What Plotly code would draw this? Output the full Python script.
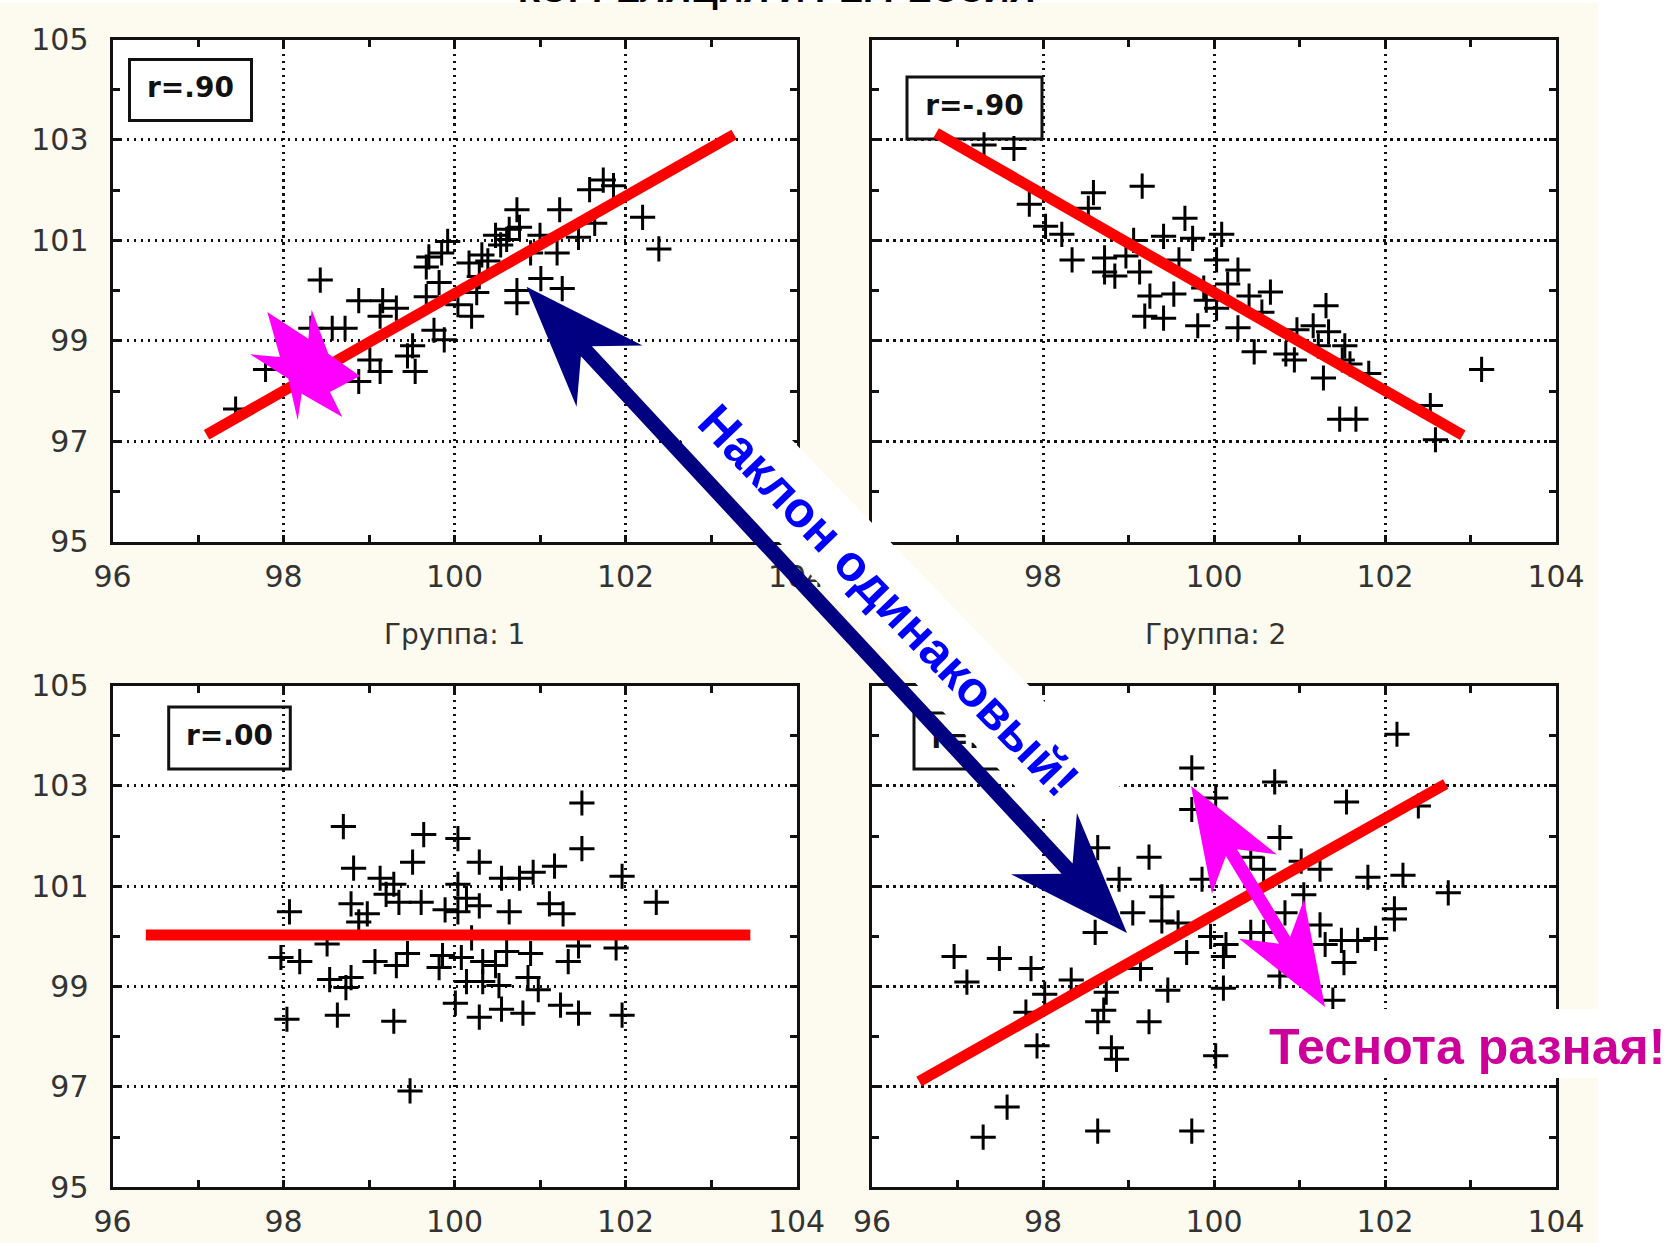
import math
import plotly.graph_objects as go

W, H = 1678, 1243

# ---------------- data ----------------
x_ticks = [96, 98, 100, 102, 104]
y_ticks = [95, 97, 99, 101, 103, 105]

tl_x = [97.44, 97.79, 98.43, 98.32, 98.57, 98.72, 98.88, 98.88, 99.01, 99.13, 99.16, 99.32, 99.13,
        99.51, 99.54, 99.45, 99.76, 99.88, 99.67, 99.82, 99.67, 99.70, 99.92, 99.85, 100.04, 100.20,
        100.17, 100.26, 100.29, 100.39, 100.48, 100.61, 100.64, 100.73, 100.76, 100.73, 100.73, 100.89,
        101.01, 101.20, 101.26, 101.23, 101.45, 101.64, 101.58, 101.74, 101.86, 102.20, 102.39, 101.00,
        100.32, 100.54]
tl_y = [97.64, 98.43, 100.21, 99.25, 99.25, 99.25, 99.80, 98.19, 98.62, 98.39, 99.80, 99.65, 99.49,
        98.90, 98.39, 98.70, 99.21, 99.02, 99.88, 100.16, 100.47, 100.67, 100.98, 100.75, 99.72, 99.49,
        100.55, 99.96, 100.28, 100.59, 101.10, 101.02, 101.22, 101.61, 101.26, 100.00, 99.76, 100.75,
        100.24, 100.75, 100.04, 101.61, 101.06, 101.34, 102.01, 102.20, 102.09, 101.46, 100.83, 101.10,
        100.71, 100.91]

tr_x = [97.31, 97.66, 97.84, 98.03, 98.22, 98.34, 98.59, 98.53, 99.16, 98.72, 98.84, 98.72, 98.97,
        99.13, 99.06, 99.41, 99.66, 99.75, 100.09, 99.59, 100.03, 100.28, 100.16, 99.25, 99.19, 99.41,
        99.53, 99.81, 99.91, 100.03, 100.41, 100.66, 100.56, 100.28, 100.47, 100.84, 100.94, 100.97,
        101.16, 101.31, 101.34, 101.22, 101.53, 101.50, 101.28, 101.59, 101.81, 101.47, 101.66, 102.53,
        102.59, 103.13, 99.88]
tr_y = [102.90, 102.83, 101.72, 101.28, 101.12, 100.61, 101.95, 101.64, 102.08, 100.65, 100.29, 100.37,
        100.69, 100.37, 101.00, 101.08, 101.44, 101.04, 101.12, 100.61, 100.61, 100.41, 100.13, 99.89,
        99.49, 99.45, 99.93, 99.30, 99.81, 99.65, 99.89, 99.97, 99.57, 99.26, 98.78, 98.74, 98.62, 99.22,
        99.30, 99.70, 99.18, 98.90, 98.90, 98.62, 98.26, 98.54, 98.35, 97.44, 97.44, 97.71, 97.03, 98.43,
        100.05]

bl_x = [98.04, 97.97, 98.19, 98.07, 98.51, 98.54, 98.73, 98.79, 98.63, 98.70, 98.82, 98.79, 98.98,
        98.88, 99.07, 99.13, 99.29, 99.20, 99.35, 99.51, 99.64, 99.61, 99.45, 99.32, 99.29, 99.48,
        99.89, 99.86, 99.82, 100.04, 100.04, 100.14, 100.04, 100.08, 100.20, 100.29, 100.29, 100.33,
        100.14, 100.33, 100.01, 100.29, 100.55, 100.52, 100.48, 100.55, 100.64, 100.61, 100.76, 100.80,
        100.92, 100.89, 100.86, 100.98, 101.17, 101.11, 101.27, 101.33, 101.45, 101.24, 101.45, 101.49,
        101.49, 101.89, 101.96, 101.96, 102.36]
bl_y = [98.35, 99.58, 99.50, 100.49, 99.85, 99.14, 98.98, 99.18, 98.43, 102.19, 101.36, 100.65, 100.45,
        100.29, 99.50, 101.16, 101.04, 100.84, 100.68, 101.48, 102.03, 100.68, 99.66, 99.42, 98.31, 96.92,
        100.53, 99.62, 99.38, 101.95, 101.04, 100.76, 100.49, 99.58, 99.97, 101.48, 100.61, 99.50, 99.10,
        99.10, 98.67, 98.39, 98.55, 99.02, 99.42, 101.16, 100.49, 99.70, 101.16, 98.47, 101.28, 99.66,
        99.18, 98.94, 101.40, 100.65, 100.45, 99.50, 99.81, 98.63, 98.47, 102.66, 101.75, 99.77, 101.20,
        98.43, 100.68]

br_x = [97.30, 97.58, 96.96, 97.11, 97.49, 97.86, 98.02, 97.80, 97.93, 98.33, 98.64, 98.61, 98.64,
        98.89, 98.74, 98.64, 98.71, 98.80, 98.86, 99.05, 99.14, 99.24, 99.24, 99.39, 99.39, 99.58,
        99.46, 99.68, 99.74, 99.74, 99.74, 100.02, 100.02, 99.86, 99.96, 100.11, 100.11, 100.14, 100.43,
        100.58, 100.43, 100.58, 100.77, 100.71, 100.83, 100.77, 101.02, 101.05, 101.24, 101.24, 101.30,
        101.39, 101.49, 101.52, 101.68, 101.89, 101.55, 101.80, 102.11, 102.11, 102.21, 102.14, 102.39,
        102.74]
br_y = [96.00, 96.60, 99.60, 99.09, 99.56, 99.36, 98.85, 98.49, 97.82, 99.13, 96.12, 100.08, 101.77,
        101.14, 98.89, 98.30, 98.53, 97.78, 97.55, 100.47, 99.36, 98.30, 101.58, 100.79, 100.31, 100.27,
        98.93, 99.68, 103.36, 102.53, 96.12, 97.62, 102.76, 101.14, 100.00, 99.60, 98.97, 99.84, 101.58,
        101.34, 100.08, 100.08, 101.97, 103.08, 100.47, 99.21, 101.50, 100.83, 101.34, 100.23, 99.84,
        98.73, 99.92, 99.48, 99.92, 99.96, 102.68, 101.18, 100.55, 100.35, 101.22, 104.03, 102.60,
        100.87]

tl_line_x = [97.10, 103.27]
tl_line_y = [97.13, 103.11]
tr_line_x = [96.75, 102.91]
tr_line_y = [103.14, 97.12]
bl_line_x = [96.39, 103.46]
bl_line_y = [100.03, 100.03]
br_line_x = [96.55, 102.71]
br_line_y = [97.11, 103.04]

r_labels = ["r=.90", "r=-.90", "r=.00", "r=.50"]
group_labels = ["Группа: 1", "Группа: 2"]
slope_text = "Наклон одинаковый!"
tight_text = "Теснота разная!"
title_text = "КОРРЕЛЯЦИЯ И РЕГРЕССИЯ"

# ---------------- layout geometry (pixels) ----------------
COL_X = [(112.5, 796.5), (872.0, 1556.0)]
ROW_Y = [(39.5, 541.7), (685.6, 1187.3)]

CREAM = "#FDFBF0"
FONT = "Liberation Sans, Arial, sans-serif"
TICKFONT = "DejaVu Sans, Verdana, sans-serif"


def pxx(x):
    return x / W


def pxy(y):
    return 1 - y / H


panels = [
    dict(ax="", col=0, row=0, xs=tl_x, ys=tl_y, lx=tl_line_x, ly=tl_line_y, r=r_labels[0],
         box=(129.5, 59.5, 251.5, 120.5), ylab=True),
    dict(ax="2", col=1, row=0, xs=tr_x, ys=tr_y, lx=tr_line_x, ly=tr_line_y, r=r_labels[1],
         box=(907.0, 77.0, 1042.0, 139.0), ylab=False),
    dict(ax="3", col=0, row=1, xs=bl_x, ys=bl_y, lx=bl_line_x, ly=bl_line_y, r=r_labels[2],
         box=(168.7, 707.0, 290.3, 769.0), ylab=True),
    dict(ax="4", col=1, row=1, xs=br_x, ys=br_y, lx=br_line_x, ly=br_line_y, r=r_labels[3],
         box=(914.0, 713.0, 1036.0, 769.0), ylab=False),
]

fig = go.Figure()
shapes = []

# white strips outside the cream slide area
shapes.append(dict(type="rect", xref="paper", yref="paper", x0=pxx(1598), x1=1, y0=0, y1=1,
                   fillcolor="white", line=dict(width=0), layer="below"))
shapes.append(dict(type="rect", xref="paper", yref="paper", x0=0, x1=1, y0=pxy(3), y1=1,
                   fillcolor="white", line=dict(width=0), layer="below"))

layout_axes = {}
for p in panels:
    xa = "x" + p["ax"]
    ya = "y" + p["ax"]
    x0, x1 = COL_X[p["col"]]
    y0, y1 = ROW_Y[p["row"]]

    fig.add_trace(go.Scatter(
        x=p["xs"], y=p["ys"], mode="markers", xaxis=xa, yaxis=ya, showlegend=False,
        marker=dict(symbol="cross-thin", size=18, color="black", line=dict(color="black", width=3)),
        hoverinfo="skip"))
    fig.add_trace(go.Scatter(
        x=p["lx"], y=p["ly"], mode="lines", xaxis=xa, yaxis=ya, showlegend=False,
        line=dict(color="#FF0000", width=11), hoverinfo="skip"))

    # r-label box (below traces) and its text (as a text trace)
    bx0, by0, bx1, by1 = p["box"]
    shapes.append(dict(type="rect", xref=xa + " domain", yref=ya + " domain",
                       x0=(bx0 - x0) / (x1 - x0), x1=(bx1 - x0) / (x1 - x0),
                       y0=1 - (by1 - y0) / (y1 - y0), y1=1 - (by0 - y0) / (y1 - y0),
                       fillcolor="white", line=dict(color="#111", width=3), layer="below"))
    cx = 96 + ((bx0 + bx1) / 2 - x0) / (x1 - x0) * 8
    cy = 105 - ((by0 + by1) / 2 - y0) / (y1 - y0) * 10
    fig.add_trace(go.Scatter(
        x=[cx], y=[cy], mode="text", text=[p["r"]], xaxis=xa, yaxis=ya, showlegend=False,
        textposition="middle center",
        textfont=dict(family=TICKFONT, size=28, color="#111", weight="bold"), hoverinfo="skip"))

    common = dict(
        showgrid=True, gridcolor="#111", gridwidth=2.5, griddash="2.5px,4.5px",
        showline=True, linecolor="#111", linewidth=3, mirror="allticks",
        ticks="inside", ticklen=7, tickwidth=2.5, tickcolor="#111",
        zeroline=False, tickfont=dict(family=TICKFONT, size=30, color="#333"),
        fixedrange=True, automargin=False,
    )
    layout_axes["xaxis" + p["ax"]] = dict(
        common, domain=[pxx(x0), pxx(x1)], range=[96, 104], tickvals=x_ticks,
        ticktext=[str(v) for v in x_ticks], anchor=ya, ticklabelstandoff=6,
        minor=dict(tick0=96, dtick=1, ticks="inside", ticklen=7, tickwidth=2.5, tickcolor="#111",
                   showgrid=False))
    layout_axes["yaxis" + p["ax"]] = dict(
        common, domain=[pxy(y1), pxy(y0)], range=[95, 105], tickvals=y_ticks,
        ticktext=[str(v) for v in y_ticks], anchor=xa, showticklabels=p["ylab"],
        ticklabelstandoff=15,
        minor=dict(tick0=95, dtick=1, ticks="inside", ticklen=7, tickwidth=2.5, tickcolor="#111",
                   showgrid=False))


def poly_path(pts):
    return "M " + " L ".join(f"{pxx(x):.5f},{pxy(y):.5f}" for x, y in pts) + " Z"


def double_arrow(p1, p2, head_len, head_half, notch, shaft_half):
    dx, dy = p2[0] - p1[0], p2[1] - p1[1]
    L = math.hypot(dx, dy)
    ux, uy = dx / L, dy / L
    nx, ny = -uy, ux

    def P(base, along, perp):
        return (base[0] + ux * along + nx * perp, base[1] + uy * along + ny * perp)

    return [p1, P(p1, head_len, head_half), P(p1, notch, shaft_half),
            P(p2, -notch, shaft_half), P(p2, -head_len, head_half), p2,
            P(p2, -head_len, -head_half), P(p2, -notch, -shaft_half),
            P(p1, notch, -shaft_half), P(p1, head_len, -head_half)]


# magenta star burst (top-left panel)
star = [(267.3, 312.0), (308.3, 338.7), (311.7, 309.7), (328.3, 353.7), (360.0, 376.0),
        (330.0, 392.0), (342.3, 417.0), (301.7, 393.7), (297.7, 420.3), (288.3, 378.7),
        (250.0, 354.3), (280.0, 357.0)]
shapes.append(dict(type="path", xref="paper", yref="paper", path=poly_path(star),
                   fillcolor="#FF00FF", line=dict(width=0), layer="above"))

# white band under the rotated text
ang = math.radians(46)
dxu, dyu = math.cos(ang), math.sin(ang)
nxu, nyu = math.sin(ang), -math.cos(ang)
c = (888.0, 600.0)
half_len, up, down = 295, 42, -38
band = [(c[0] - dxu * half_len + nxu * down, c[1] - dyu * half_len + nyu * down),
        (c[0] - dxu * half_len + nxu * up, c[1] - dyu * half_len + nyu * up),
        (c[0] + dxu * half_len + nxu * up, c[1] + dyu * half_len + nyu * up),
        (c[0] + dxu * half_len + nxu * down, c[1] + dyu * half_len + nyu * down)]
shapes.append(dict(type="path", xref="paper", yref="paper", path=poly_path(band),
                   fillcolor="white", line=dict(width=0), layer="above"))

# navy double-headed arrow
navy = double_arrow((526.5, 286.8), (1127.0, 933.0), 122, 45, 88, 7.5)
shapes.append(dict(type="path", xref="paper", yref="paper", path=poly_path(navy),
                   fillcolor="#000080", line=dict(width=0), layer="above"))

# magenta double-headed arrow
mag = double_arrow((1191.0, 786.0), (1325.0, 1007.0), 103, 38, 78, 6.5)
shapes.append(dict(type="path", xref="paper", yref="paper", path=poly_path(mag),
                   fillcolor="#FF00FF", line=dict(width=0), layer="above"))

# white box behind "Теснота разная!"
shapes.append(dict(type="rect", xref="paper", yref="paper", x0=pxx(1246), x1=1,
                   y0=pxy(1078), y1=pxy(1009), fillcolor="white", line=dict(width=0), layer="above"))

annotations = [
    dict(text=slope_text, x=pxx(c[0]), y=pxy(c[1]), xref="paper", yref="paper",
         showarrow=False, textangle=46, xanchor="center", yanchor="middle",
         font=dict(family=FONT, size=50, color="#0000FF", weight="bold")),
    dict(text=tight_text, x=pxx(1467), y=pxy(1047), xref="paper", yref="paper",
         showarrow=False, xanchor="center", yanchor="middle",
         font=dict(family=FONT, size=50, color="#CC0099", weight="bold")),
    dict(text=group_labels[0], x=pxx(454), y=pxy(634), xref="paper", yref="paper",
         showarrow=False, xanchor="center", yanchor="middle",
         font=dict(family=TICKFONT, size=28, color="#333")),
    dict(text=group_labels[1], x=pxx(1215), y=pxy(634), xref="paper", yref="paper",
         showarrow=False, xanchor="center", yanchor="middle",
         font=dict(family=TICKFONT, size=28, color="#333")),
    dict(text=title_text, x=pxx(776), y=pxy(10.5), xref="paper", yref="paper",
         showarrow=False, xanchor="center", yanchor="bottom", borderpad=0,
         font=dict(family=FONT, size=36, color="black", weight="bold")),
]

fig.update_layout(
    width=W, height=H, autosize=False,
    margin=dict(l=0, r=0, t=0, b=0, pad=0, autoexpand=False),
    paper_bgcolor=CREAM, plot_bgcolor="white",
    shapes=shapes, annotations=annotations, showlegend=False,
    **layout_axes,
)

fig.write_html("out.html", include_plotlyjs=True, config={"displayModeBar": False})
